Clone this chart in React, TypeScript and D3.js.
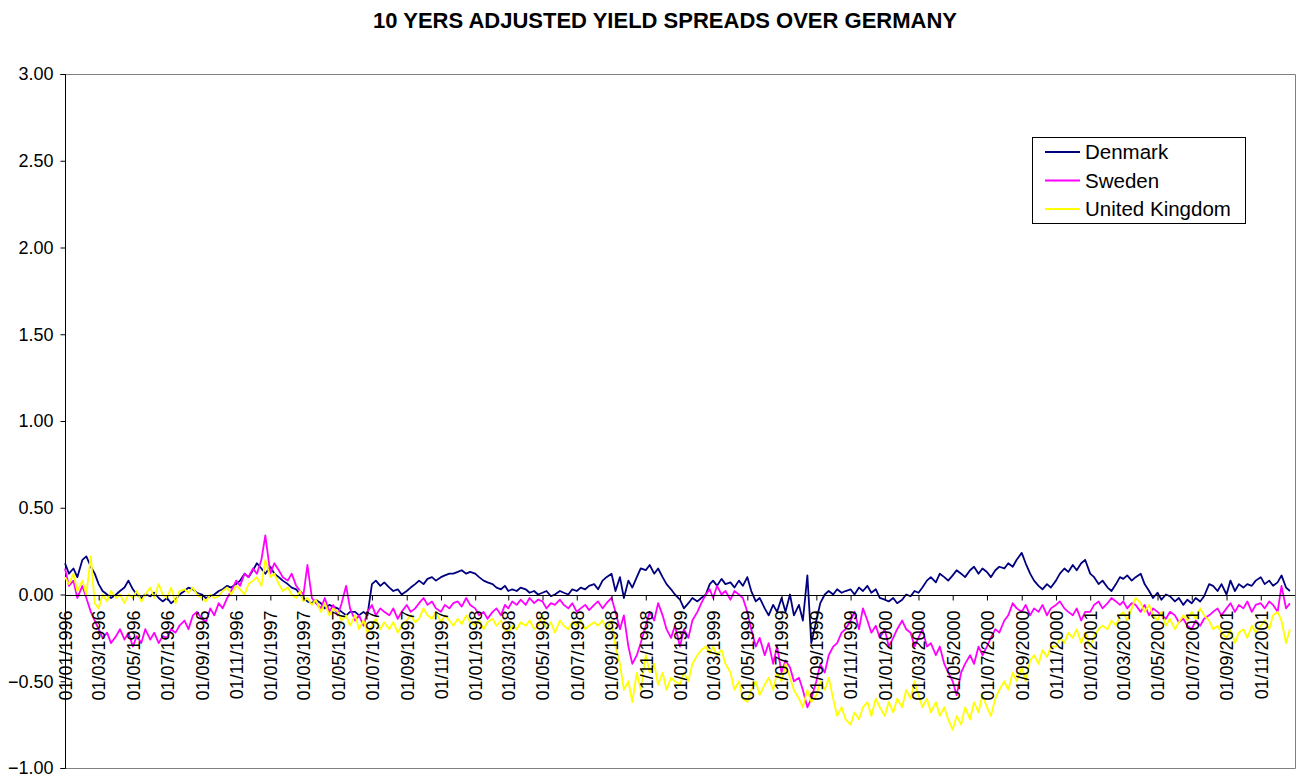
import React, { useRef, useEffect } from "react";
import * as d3 from "d3";

// observation days inside each month (weekly-ish readings)
const obsDays = [1, 8, 16, 23];
const firstYear = 1996;
const lastYear = 2001;

const denmark = [
  // 1996
  0.18, 0.12, 0.15, 0.10, 0.20, 0.22, 0.16, 0.12, 0.06, 0.02, 0.00, -0.02,
  0.00, 0.02, 0.04, 0.08, 0.03, 0.00, -0.02, 0.00, -0.01, 0.01, -0.02, -0.04,
  -0.02, -0.05, -0.03, 0.00, 0.02, 0.04, 0.03, 0.01, 0.00, -0.02, -0.01, 0.00,
  0.02, 0.03, 0.05, 0.04, 0.06, 0.08, 0.12, 0.10, 0.14, 0.18, 0.15, 0.12,
  // 1997
  0.16, 0.12, 0.10, 0.08, 0.06, 0.04, 0.03, 0.00, -0.02, -0.04, -0.05, -0.03,
  -0.05, -0.08, -0.06, -0.07, -0.08, -0.10, -0.12, -0.10, -0.10, -0.12, -0.10, -0.12,
  0.06, 0.08, 0.05, 0.07, 0.04, 0.02, 0.03, 0.00, 0.02, 0.04, 0.06, 0.08,
  0.06, 0.09, 0.10, 0.08, 0.10, 0.11, 0.12, 0.12, 0.13, 0.14, 0.12, 0.13,
  // 1998
  0.12, 0.10, 0.08, 0.07, 0.06, 0.04, 0.03, 0.05, 0.02, 0.03, 0.02, 0.04,
  0.03, 0.01, 0.02, 0.00, 0.01, 0.02, -0.01, 0.00, 0.02, 0.01, 0.00, 0.03,
  0.02, 0.04, 0.03, 0.05, 0.06, 0.03, 0.08, 0.10, 0.12, 0.02, 0.10, -0.02,
  0.08, 0.04, 0.10, 0.15, 0.14, 0.17, 0.12, 0.15, 0.10, 0.06, 0.03, 0.00,
  // 1999
  -0.03, -0.08, -0.05, -0.02, -0.04, -0.02, 0.00, 0.06, 0.08, 0.05, 0.09, 0.06,
  0.07, 0.04, 0.08, 0.05, 0.10, 0.02, -0.04, -0.02, -0.08, -0.12, -0.06, -0.10,
  -0.02, -0.10, 0.00, -0.12, -0.06, -0.15, 0.11, -0.28, -0.15, -0.05, 0.00, 0.02,
  0.00, 0.03, 0.01, 0.02, 0.03, 0.00, 0.04, 0.02, 0.05, 0.01, 0.03, -0.02,
  // 2000
  -0.03, -0.04, -0.02, -0.05, -0.03, 0.00, -0.01, 0.02, 0.01, 0.04, 0.08, 0.10,
  0.07, 0.12, 0.10, 0.08, 0.11, 0.14, 0.12, 0.10, 0.14, 0.16, 0.12, 0.15,
  0.13, 0.10, 0.14, 0.16, 0.15, 0.18, 0.16, 0.20, 0.24, 0.18, 0.12, 0.08,
  0.05, 0.03, 0.06, 0.04, 0.08, 0.12, 0.15, 0.13, 0.17, 0.14, 0.18, 0.20,
  // 2001
  0.12, 0.10, 0.06, 0.08, 0.04, 0.02, 0.06, 0.10, 0.09, 0.11, 0.08, 0.10,
  0.12, 0.06, 0.02, -0.02, 0.01, -0.03, 0.00, -0.01, -0.04, -0.02, -0.06, -0.03,
  -0.05, -0.02, -0.04, -0.01, 0.06, 0.05, 0.02, 0.06, 0.00, 0.08, 0.02, 0.06,
  0.04, 0.06, 0.05, 0.08, 0.10, 0.06, 0.08, 0.05, 0.07, 0.11, 0.04, 0.02,
];

const sweden = [
  // 1996
  0.15, 0.05, 0.08, -0.02, 0.05, -0.02, -0.10, -0.15, -0.20, -0.25, -0.22, -0.28,
  -0.24, -0.20, -0.26, -0.22, -0.30, -0.24, -0.28, -0.20, -0.26, -0.22, -0.28, -0.24,
  -0.25, -0.20, -0.22, -0.18, -0.15, -0.20, -0.12, -0.10, -0.14, -0.16, -0.08, -0.12,
  -0.05, -0.08, -0.02, 0.02, 0.08, 0.05, 0.12, 0.10, 0.15, 0.12, 0.20, 0.34,
  // 1997
  0.12, 0.18, 0.14, 0.10, 0.08, 0.12, 0.05, 0.02, 0.00, 0.17, -0.02, -0.05,
  -0.08, -0.02, -0.10, -0.06, -0.12, -0.05, 0.05, -0.08, -0.15, -0.12, -0.18, -0.10,
  -0.06, -0.12, -0.08, -0.10, -0.12, -0.08, -0.14, -0.10, -0.06, -0.10, -0.08, -0.05,
  -0.02, -0.06, -0.04, -0.08, -0.10, -0.06, -0.08, -0.05, -0.04, -0.07, -0.02, -0.06,
  // 1998
  -0.08, -0.12, -0.10, -0.14, -0.10, -0.08, -0.12, -0.06, -0.08, -0.04, -0.06, -0.03,
  -0.06, -0.02, -0.05, -0.03, -0.04, -0.08, -0.05, -0.06, -0.03, -0.06, -0.08, -0.05,
  -0.10, -0.08, -0.06, -0.09, -0.06, -0.04, -0.08, -0.05, -0.02, -0.10, -0.20, -0.12,
  -0.30, -0.40, -0.35, -0.28, -0.18, -0.10, -0.15, -0.05, -0.12, -0.20, -0.25, -0.18,
  // 1999
  -0.30, -0.20, -0.25, -0.15, -0.10, -0.05, 0.00, 0.03, -0.02, 0.05, 0.00, 0.02,
  -0.03, 0.02, 0.00, -0.02, -0.10, -0.20, -0.30, -0.25, -0.35, -0.28, -0.40, -0.30,
  -0.45, -0.38, -0.42, -0.50, -0.48, -0.55, -0.65, -0.60, -0.50, -0.40, -0.45, -0.35,
  -0.30, -0.28, -0.22, -0.20, -0.15, -0.10, -0.20, -0.08, -0.15, -0.22, -0.18, -0.25,
  // 2000
  -0.20, -0.30, -0.25, -0.20, -0.15, -0.20, -0.22, -0.30, -0.25, -0.20, -0.30, -0.28,
  -0.35, -0.30, -0.40, -0.45, -0.50, -0.58, -0.45, -0.40, -0.35, -0.40, -0.30, -0.35,
  -0.30, -0.25, -0.20, -0.22, -0.15, -0.12, -0.05, -0.08, -0.10, -0.06, -0.12, -0.08,
  -0.10, -0.06, -0.12, -0.08, -0.06, -0.04, -0.08, -0.10, -0.12, -0.08, -0.15, -0.10,
  // 2001
  -0.10, -0.06, -0.04, -0.08, -0.05, -0.02, -0.04, -0.06, -0.04, -0.08, -0.05, -0.06,
  -0.10, -0.06, -0.12, -0.08, -0.10, -0.12, -0.14, -0.10, -0.12, -0.16, -0.14, -0.18,
  -0.20, -0.15, -0.18, -0.14, -0.12, -0.10, -0.08, -0.12, -0.08, -0.05, -0.10, -0.06,
  -0.08, -0.04, -0.10, -0.06, -0.05, -0.08, -0.04, -0.06, -0.10, 0.05, -0.08, -0.05,
];

const unitedKingdom = [
  // 1996
  0.10, 0.06, 0.12, 0.02, 0.08, 0.00, 0.22, -0.05, -0.08, 0.00, -0.04, 0.02,
  -0.02, 0.00, -0.05, 0.00, -0.02, 0.02, -0.04, 0.00, 0.04, -0.02, 0.06, 0.00,
  -0.02, 0.04, -0.05, 0.02, 0.03, 0.01, 0.04, 0.00, -0.02, -0.04, 0.00, -0.02,
  -0.01, 0.02, 0.04, 0.00, 0.05, 0.03, 0.00, 0.06, 0.08, 0.10, 0.05, 0.20,
  // 1997
  0.10, 0.12, 0.06, 0.02, 0.04, 0.00, -0.02, 0.02, -0.04, -0.02, -0.06, -0.03,
  -0.10, -0.05, -0.12, -0.08, -0.10, -0.15, -0.12, -0.18, -0.12, -0.20, -0.15, -0.22,
  -0.18, -0.14, -0.20, -0.16, -0.20, -0.16, -0.22, -0.18, -0.15, -0.12, -0.16, -0.14,
  -0.08, -0.12, -0.14, -0.10, -0.16, -0.12, -0.15, -0.18, -0.14, -0.17, -0.12, -0.16,
  // 1998
  -0.18, -0.15, -0.20, -0.16, -0.14, -0.18, -0.15, -0.20, -0.22, -0.18, -0.20, -0.16,
  -0.18, -0.15, -0.20, -0.18, -0.12, -0.20, -0.16, -0.22, -0.15, -0.18, -0.20, -0.16,
  -0.18, -0.15, -0.20, -0.18, -0.16, -0.18, -0.15, -0.20, -0.15, -0.30, -0.40, -0.55,
  -0.50, -0.62, -0.45, -0.55, -0.35, -0.45, -0.40, -0.52, -0.45, -0.55, -0.48, -0.50,
  // 1999
  -0.52, -0.45, -0.50, -0.40, -0.35, -0.32, -0.30, -0.34, -0.30, -0.35, -0.32, -0.40,
  -0.45, -0.55, -0.50, -0.60, -0.62, -0.55, -0.50, -0.58, -0.52, -0.48, -0.55, -0.45,
  -0.50, -0.40, -0.48, -0.55, -0.60, -0.65, -0.55, -0.62, -0.58, -0.50, -0.55, -0.48,
  -0.60, -0.70, -0.65, -0.72, -0.75, -0.68, -0.72, -0.65, -0.62, -0.70, -0.60, -0.65,
  // 2000
  -0.70, -0.62, -0.68, -0.60, -0.65, -0.55, -0.60, -0.50, -0.58, -0.65, -0.60, -0.68,
  -0.62, -0.70, -0.65, -0.72, -0.78, -0.70, -0.75, -0.65, -0.72, -0.62, -0.68, -0.58,
  -0.65, -0.70, -0.60, -0.55, -0.50, -0.55, -0.45, -0.50, -0.42, -0.50, -0.38, -0.35,
  -0.40, -0.32, -0.36, -0.30, -0.30, -0.25, -0.28, -0.22, -0.25, -0.20, -0.28, -0.22,
  // 2001
  -0.30, -0.24, -0.20, -0.18, -0.20, -0.15, -0.18, -0.12, -0.10, -0.15, -0.08, -0.02,
  -0.05, -0.10, -0.06, -0.12, -0.15, -0.10, -0.18, -0.14, -0.20, -0.16, -0.12, -0.15,
  -0.10, -0.14, -0.08, -0.12, -0.15, -0.20, -0.18, -0.22, -0.25, -0.20, -0.28, -0.22,
  -0.20, -0.25, -0.18, -0.22, -0.18, -0.15, -0.20, -0.12, -0.10, -0.15, -0.28, -0.20,
];

const seriesNames = ["Denmark", "Sweden", "United Kingdom"];
const seriesColors = ["#000080", "#FF00FF", "#FFFF00"];
const yTicks = [-1, -0.5, 0, 0.5, 1, 1.5, 2, 2.5, 3];

const title = "10 YERS ADJUSTED YIELD SPREADS OVER GERMANY";
const font = "Arial, 'Liberation Sans', sans-serif";

function App() {
  const ref = useRef<SVGSVGElement>(null);

  useEffect(() => {
    const svg = d3.select(ref.current);
    svg.selectAll("*").remove();

    const width = 1303;
    const height = 780;
    const left = 65, right = 1295, top = 74, bottom = 768;

    // build the observation dates
    const dates: Date[] = [];
    for (let y = firstYear; y <= lastYear; y++) {
      for (let m = 0; m < 12; m++) {
        obsDays.forEach((d) => dates.push(new Date(y, m, d)));
      }
    }

    const xScale = d3.scaleTime()
      .domain([new Date(firstYear, 0, 1), new Date(lastYear + 1, 0, 1)])
      .range([left, right]);

    const yScale = d3.scaleLinear()
      .domain([-1, 3])
      .range([bottom, top]);

    svg.attr("width", width).attr("height", height);

    svg.append("rect")
      .attr("width", width).attr("height", height)
      .attr("fill", "white");

    svg.append("text")
      .attr("x", 665)
      .attr("y", 28)
      .attr("text-anchor", "middle")
      .style("font-family", font)
      .style("font-weight", "bold")
      .style("font-size", "22px")
      .text(title);

    // plot frame (top, right, bottom in grey)
    svg.append("path")
      .attr("d", `M${left},${top + 0.5}H${right + 0.5}V${bottom + 0.5}H${left}`)
      .attr("fill", "none")
      .attr("stroke", "#808080")
      .attr("stroke-width", 1);

    // y axis
    const yAxis = svg.append("g")
      .attr("transform", `translate(${left + 0.5},0)`)
      .call(d3.axisLeft(yScale).tickValues(yTicks).tickFormat(d3.format(".2f")).tickSize(5).tickPadding(7));
    yAxis.attr("font-family", null).attr("font-size", null);
    yAxis.select(".domain").attr("stroke", "black").attr("d", `M-5,${top + 0.5}H0V${bottom + 0.5}H-5`);
    yAxis.selectAll(".tick line").attr("stroke", "black");
    yAxis.selectAll("text")
      .style("font-family", font)
      .style("font-size", "18px")
      .attr("fill", "black");

    // lines, Denmark first so the UK sits on top
    const lineGen = d3.line<number>()
      .x((d, i) => xScale(dates[i]))
      .y((d) => yScale(d));

    const allSeries = [denmark, sweden, unitedKingdom];
    allSeries.forEach((s, k) => {
      svg.append("path")
        .datum(s)
        .attr("fill", "none")
        .attr("stroke", seriesColors[k])
        .attr("stroke-width", 1.8)
        .attr("stroke-linejoin", "round")
        .attr("d", lineGen);
    });

    // x axis at zero
    const xTickDates = d3.timeMonth.every(2)!.range(new Date(firstYear, 0, 1), new Date(lastYear + 1, 0, 1));
    const xAxis = svg.append("g")
      .attr("transform", `translate(0,${Math.round(yScale(0)) + 0.5})`)
      .call(d3.axisBottom(xScale).tickValues(xTickDates).tickFormat(d3.timeFormat("%d/%m/%Y") as any).tickSize(5).tickPadding(3));
    xAxis.attr("font-family", null).attr("font-size", null);
    xAxis.select(".domain").attr("stroke", "black").attr("d", `M${left},0H${right}`);
    xAxis.selectAll(".tick line").attr("stroke", "black");
    xAxis.selectAll("text")
      .attr("fill", "black")
      .attr("transform", "rotate(-90)")
      .attr("text-anchor", "end")
      .attr("dy", "0.35em")
      .attr("x", -15)
      .attr("y", 0)
      .style("font-family", font)
      .style("font-size", "18px");

    // legend
    const lg = svg.append("g").attr("transform", "translate(1032,137)");
    lg.append("rect")
      .attr("x", 0.5).attr("y", 0.5)
      .attr("width", 213).attr("height", 86)
      .attr("fill", "white")
      .attr("stroke", "black");
    seriesNames.forEach((name, i) => {
      const cy = 15 + i * 28.5;
      lg.append("line")
        .attr("x1", 13).attr("x2", 48)
        .attr("y1", cy).attr("y2", cy)
        .attr("stroke", seriesColors[i])
        .attr("stroke-width", 1.8);
      lg.append("text")
        .attr("x", 53).attr("y", cy)
        .attr("dy", "0.35em")
        .style("font-family", font)
        .style("font-size", "20.5px")
        .text(name);
    });
  }, []);

  return <svg ref={ref} style={{ display: "block", position: "absolute", left: 0, top: 0 }} />;
}

export default App;
